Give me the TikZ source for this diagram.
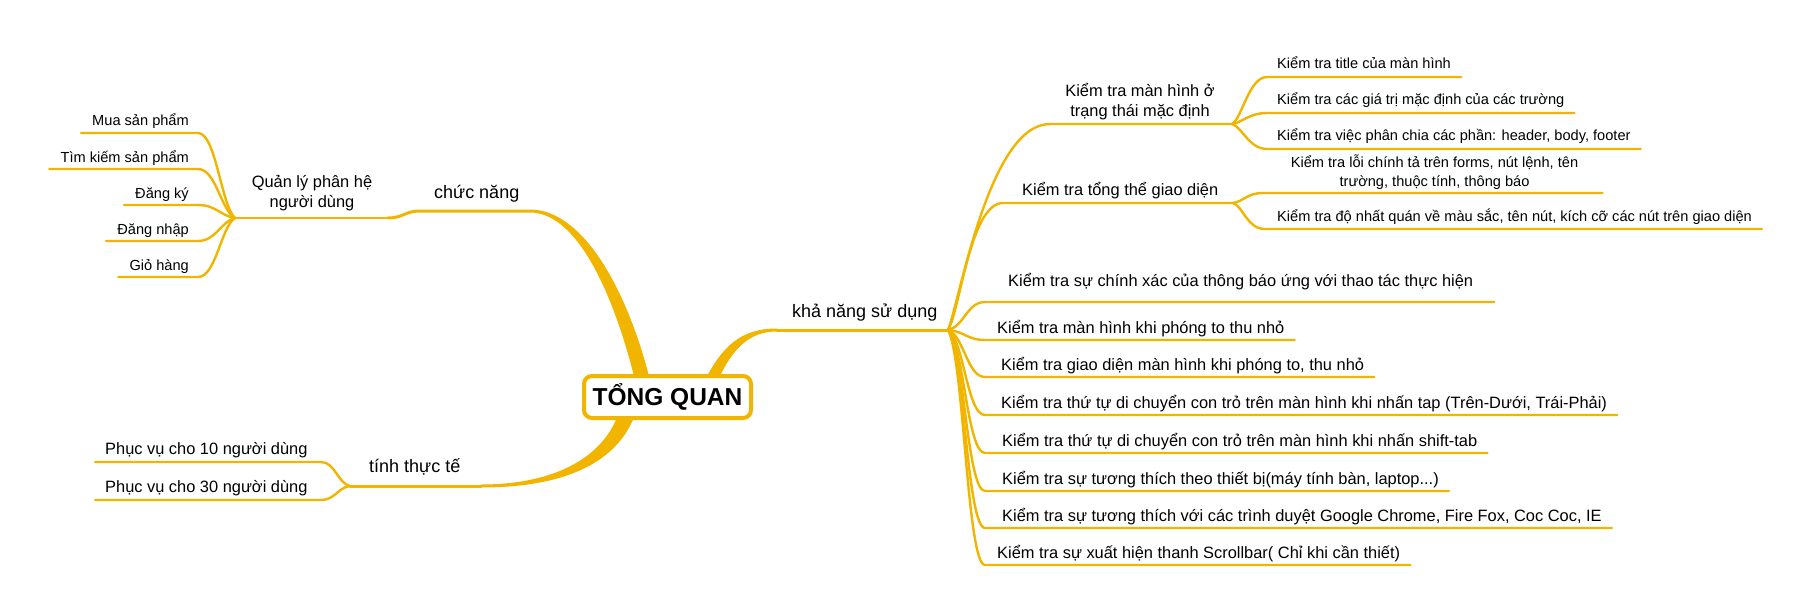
\documentclass[tikz,border=0pt]{standalone}
\usepackage{fontspec}
\setmainfont{Liberation Sans}
\usetikzlibrary{calc}
\definecolor{br}{RGB}{241,181,0}
\begin{document}
\begin{tikzpicture}[x=1pt,y=-1pt,
  conn/.style={draw=br, line width=2.4pt, line cap=round},
  trunk/.style={draw=br, line width=3pt, line cap=round},
  lvlA/.style={inner sep=0pt, font=\fontsize{18}{21}\selectfont},
  lvlB/.style={inner sep=0pt, font=\fontsize{16.4}{20}\selectfont},
  lvlC/.style={inner sep=0pt, font=\fontsize{14.6}{19}\selectfont},
  rootbox/.style={draw=br, line width=4pt, rounded corners=8pt, fill=white,
    minimum width=167pt, minimum height=42pt, inner sep=0pt,
    font=\bfseries\fontsize{24.5}{28}\selectfont}]
\useasboundingbox (0,0) rectangle (1809,615);

% ---------- hubs and line ends ----------
\coordinate (cnR) at (530,211);
\coordinate (cnL) at (420,211);
\coordinate (qlR) at (388,218);
\coordinate (Lhub) at (235,218);
\coordinate (knL) at (777,330);
\coordinate (Rhub) at (948,330);
\coordinate (ttR) at (481,486);
\coordinate (Thub) at (350,486);

% ---------- thick branches from the root ----------
\fill[br] (530,209.5) .. controls (583,209.5) and (628,290) .. (651,384)
  -- (636,384) .. controls (613,290) and (576,212.5) .. (530,212.5) -- cycle;
\fill[br] (619,412) .. controls (605,455) and (558,484.5) .. (481,484.5)
  -- (481,487.5) .. controls (566,487.5) and (619,462) .. (636,412) -- cycle;
\fill[br] (705,380) .. controls (723,345) and (742,328.5) .. (777,328.5)
  -- (777,331.5) .. controls (748,331.5) and (732,350) .. (718,380) -- cycle;

% ---------- level 1 ----------
\node[lvlA, anchor=base west] (cn) at (434,198) {chức năng};
\node[lvlA, anchor=base west] (kn) at (792,317) {khả năng sử dụng};
\node[lvlA, anchor=base west] (tt) at (369,472) {tính thực tế};
\draw[trunk] (cnR) -- (cnL) .. controls +(-15,0) and +(15,0) .. (qlR);
\draw[trunk] (knL) -- (Rhub);
\draw[trunk] (ttR) -- (Thub);

% ---------- chức năng ----------
\node[lvlB, align=center, anchor=south] (ql) at (312,211.5) {Quản lý phân hệ\\người dùng};
\draw[conn] (qlR) -- (Lhub);
\node[lvlC, anchor=base east] (l1) at (189,126) {Mua sản phẩm};
\node[lvlC, anchor=base east] (l2) at (189,162) {Tìm kiếm sản phẩm};
\node[lvlC, anchor=base east] (l3) at (189,198) {Đăng ký};
\node[lvlC, anchor=base east] (l4) at (189,234) {Đăng nhập};
\node[lvlC, anchor=base east] (l5) at (189,270) {Giỏ hàng};
\coordinate (l1e) at (198,133);
\coordinate (l2e) at (198,169);
\coordinate (l3e) at (198,205);
\coordinate (l4e) at (198,241);
\coordinate (l5e) at (198,277);
\draw[conn] (Lhub) .. controls +(-14,-12.8) and +(18,0) .. (l1e) -- ($(l1e -| l1.west)+(-11,0)$);
\draw[conn] (Lhub) .. controls +(-14,-7.4) and +(18,0) .. (l2e) -- ($(l2e -| l2.west)+(-11,0)$);
\draw[conn] (Lhub) .. controls +(-14,-2) and +(18,0) .. (l3e) -- ($(l3e -| l3.west)+(-11,0)$);
\draw[conn] (Lhub) .. controls +(-14,3.5) and +(18,0) .. (l4e) -- ($(l4e -| l4.west)+(-11,0)$);
\draw[conn] (Lhub) .. controls +(-14,8.9) and +(18,0) .. (l5e) -- ($(l5e -| l5.west)+(-11,0)$);

% ---------- tính thực tế ----------
\node[lvlB, anchor=base west] (p1) at (105,454) {Phục vụ cho 10 người dùng};
\node[lvlB, anchor=base west] (p2) at (105,492) {Phục vụ cho 30 người dùng};
\coordinate (p1e) at (321,462);
\coordinate (p2e) at (321,500);
\draw[conn] (Thub) .. controls +(-12,-2.4) and +(14,0) .. (p1e) -- ($(p1e -| p1.west)+(-10,0)$);
\draw[conn] (Thub) .. controls +(-12,1.4) and +(14,0) .. (p2e) -- ($(p2e -| p2.west)+(-10,0)$);

% ---------- khả năng sử dụng ----------
\node[lvlB, align=center, anchor=south] (A) at (1140,120) {Kiểm tra màn hình ở\\trạng thái mặc định};
\coordinate (As) at (1050,124);
\coordinate (Ahub) at (1232,124);
\draw[conn] (Rhub) .. controls +(12,-30) and +(-61,0) .. (As) -- (Ahub);

\node[lvlB, anchor=base west] (B) at (1022,195) {Kiểm tra tổng thể giao diện};
\coordinate (Bs) at (1003,203);
\coordinate (Bhub) at (1233,203);
\draw[conn] (Rhub) .. controls +(12,-19) and +(-33,0) .. (Bs) -- (Bhub);

\node[lvlC, anchor=base west] (a1) at (1277,69) {Kiểm tra title của màn hình};
\node[lvlC, anchor=base west] (a2) at (1277,105) {Kiểm tra các giá trị mặc định của các trường};
\node[lvlC, anchor=base west] (a3) at (1277,141) {Kiểm tra việc phân chia các phần: header, body, footer};
\coordinate (a1s) at (1267,77);
\coordinate (a2s) at (1267,113);
\coordinate (a3s) at (1267,149);
\draw[conn] (Ahub) .. controls +(10,-5.6) and +(-18,0) .. (a1s) -- ($(a1s -| a1.east)+(10,0)$);
\draw[conn] (Ahub) .. controls +(10,-1.3) and +(-18,0) .. (a2s) -- ($(a2s -| a2.east)+(10,0)$);
\draw[conn] (Ahub) .. controls +(10,3) and +(-18,0) .. (a3s) -- ($(a3s -| a3.east)+(10,0)$);

\node[lvlC, align=center, anchor=south] (b1) at (1434.5,190) {Kiểm tra lỗi chính tả trên forms, nút lệnh, tên\\trường, thuộc tính, thông báo};
\node[lvlC, anchor=base west] (b2) at (1277,221) {Kiểm tra độ nhất quán về màu sắc, tên nút, kích cỡ các nút trên giao diện};
\coordinate (b1s) at (1263,193);
\coordinate (b2s) at (1265,229);
\draw[conn] (Bhub) .. controls +(10,-1.2) and +(-16,0) .. (b1s) -- ($(b1s -| b1.east)+(24,0)$);
\draw[conn] (Bhub) .. controls +(10,3.1) and +(-18,0) .. (b2s) -- ($(b2s -| b2.east)+(10,0)$);

\node[lvlB, anchor=base west] (r3) at (1008,286) {Kiểm tra sự chính xác của thông báo ứng với thao tác thực hiện};
\node[lvlB, anchor=base west] (r4) at (997,333) {Kiểm tra màn hình khi phóng to thu nhỏ};
\node[lvlB, anchor=base west] (r5) at (1001,370) {Kiểm tra giao diện màn hình khi phóng to, thu nhỏ};
\node[lvlB, anchor=base west] (r6) at (1001,408) {Kiểm tra thứ tự di chuyển con trỏ trên màn hình khi nhấn tap (Trên-Dưới, Trái-Phải)};
\node[lvlB, anchor=base west] (r7) at (1002,446) {Kiểm tra thứ tự di chuyển con trỏ trên màn hình khi nhấn shift-tab};
\node[lvlB, anchor=base west] (r8) at (1002,484) {Kiểm tra sự tương thích theo thiết bị(máy tính bàn, laptop...)};
\node[lvlB, anchor=base west] (r9) at (1002,521) {Kiểm tra sự tương thích với các trình duyệt Google Chrome, Fire Fox, Coc Coc, IE};
\node[lvlB, anchor=base west] (r10) at (997,558) {Kiểm tra sự xuất hiện thanh Scrollbar( Chỉ khi cần thiết)};
\coordinate (r3s) at (985,302);
\coordinate (r4s) at (985,340);
\coordinate (r5s) at (985,377);
\coordinate (r6s) at (985,415);
\coordinate (r7s) at (985,453);
\coordinate (r8s) at (985,491);
\coordinate (r9s) at (985,528);
\coordinate (r10s) at (985,565);
\draw[conn] (Rhub) .. controls +(16,-3.4) and +(-18,0) .. (r3s) -- ($(r3s -| r3.east)+(21,0)$);
\draw[conn] (Rhub) .. controls +(16,1.2) and +(-18,0) .. (r4s) -- ($(r4s -| r4.east)+(10,0)$);
\draw[conn] (Rhub) .. controls +(16,5.6) and +(-18,0) .. (r5s) -- ($(r5s -| r5.east)+(10,0)$);
\draw[conn] (Rhub) .. controls +(16,10.2) and +(-18,0) .. (r6s) -- ($(r6s -| r6.east)+(10,0)$);
\draw[conn] (Rhub) .. controls +(16,14.8) and +(-18,0) .. (r7s) -- ($(r7s -| r7.east)+(10,0)$);
\draw[conn] (Rhub) .. controls +(16,19.3) and +(-18,0) .. (r8s) -- ($(r8s -| r8.east)+(10,0)$);
\draw[conn] (Rhub) .. controls +(16,23.8) and +(-18,0) .. (r9s) -- ($(r9s -| r9.east)+(10,0)$);
\draw[conn] (Rhub) .. controls +(16,28.2) and +(-18,0) .. (r10s) -- ($(r10s -| r10.east)+(10,0)$);

% ---------- root ----------
\node[rootbox] (root) at (667.5,397) {TỔNG QUAN};
\end{tikzpicture}
\end{document}
